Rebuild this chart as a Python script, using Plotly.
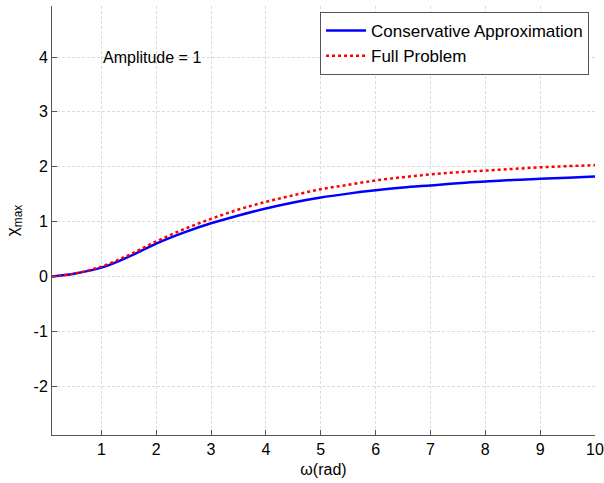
import plotly.graph_objects as go

omega = [0.1, 0.5, 1.0, 1.5, 2.0, 2.5, 3.0, 3.5, 4.0, 4.5, 5.0, 5.5, 6.0, 6.5, 7.0, 7.5, 8.0, 8.5, 9.0, 9.5, 10.0]
conservative = [0.0, 0.05, 0.16, 0.36, 0.60, 0.80, 0.97, 1.11, 1.24, 1.35, 1.44, 1.51, 1.57, 1.62, 1.66, 1.70, 1.73, 1.76, 1.78, 1.80, 1.82]
full_problem = [0.0, 0.05, 0.18, 0.39, 0.64, 0.86, 1.05, 1.22, 1.36, 1.48, 1.59, 1.67, 1.75, 1.81, 1.86, 1.90, 1.93, 1.96, 1.99, 2.01, 2.03]
x_ticks = [1, 2, 3, 4, 5, 6, 7, 8, 9, 10]
y_ticks = [-2, -1, 0, 1, 2, 3, 4]

font = "Liberation Sans, Arial, Helvetica, sans-serif"

fig = go.Figure()
fig.add_trace(go.Scatter(x=omega, y=conservative, mode="lines", name="Conservative Approximation",
                         line=dict(color="#0000ff", width=2.5, shape="spline")))
fig.add_trace(go.Scatter(x=omega, y=full_problem, mode="lines", name="Full Problem",
                         line=dict(color="#ff0000", width=2.5, dash="dot", shape="spline")))

axis_common = dict(showline=True, linecolor="#555555", linewidth=1, ticks="inside", ticklen=5,
                   tickcolor="#555555", showgrid=True, gridcolor="#dcdcdc", griddash="3px,2px",
                   gridwidth=1, zeroline=False, mirror=False, automargin=False,
                   tickfont=dict(family=font, size=16, color="#000000"))

fig.update_layout(
    width=604, height=483,
    margin=dict(l=52, r=9, t=6, b=48),
    paper_bgcolor="white", plot_bgcolor="white",
    font=dict(family=font, size=16, color="#000000"),
    xaxis=dict(range=[0.1, 10], tickvals=x_ticks, ticktext=[str(v) for v in x_ticks],
               title=dict(text="ω(rad)", font=dict(family=font, size=16), standoff=6), **axis_common),
    yaxis=dict(range=[-2.89, 4.93], tickvals=y_ticks, ticktext=[str(v) for v in y_ticks],
               title=dict(text="χ<sub>max</sub>", font=dict(family=font, size=17), standoff=10), **axis_common),
    legend=dict(x=0.989, y=0.986, xanchor="right", yanchor="top", bgcolor="white",
                bordercolor="#555555", borderwidth=1, font=dict(family=font, size=17),
                tracegroupgap=0, itemwidth=40),
    showlegend=True,
)
fig.add_annotation(x=1.0, y=4.0, xref="x", yref="y", text="Amplitude = 1", showarrow=False,
                   xanchor="left", yanchor="middle", font=dict(family=font, size=16, color="#000000"))

fig.write_html("out.html")
